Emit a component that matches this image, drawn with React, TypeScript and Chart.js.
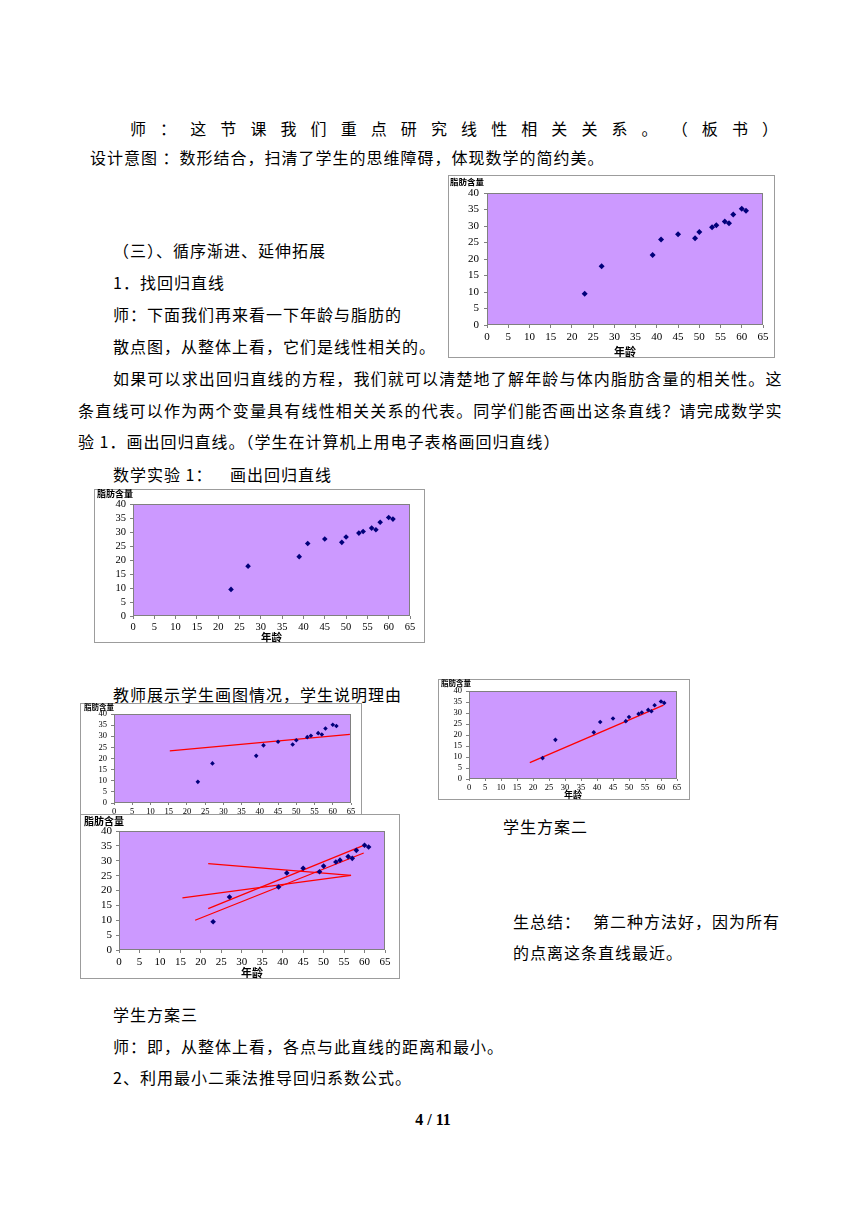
import React, { useEffect, useRef } from "react";
import { Chart, registerables } from "chart.js";

Chart.register(...registerables);

// ---- data (age vs body-fat) ----
const ages = [23, 27, 39, 41, 45, 49, 50, 53, 54, 56, 57, 58, 60, 61];
const fat = [9.5, 17.8, 21.2, 25.9, 27.5, 26.3, 28.2, 29.6, 30.2, 31.4, 30.8, 33.5, 35.2, 34.6];
const xTickLabels = [0, 5, 10, 15, 20, 25, 30, 35, 40, 45, 50, 55, 60, 65];
const yTickLabels = [0, 5, 10, 15, 20, 25, 30, 35, 40];
const xAxisTitle = "年龄";
const yAxisTitle = "脂肪含量";

// student-drawn lines (endpoints)
const planOneX = [15.3, 64.7];
const planOneY = [23.4, 30.8];
const planTwoX = [19.0, 60.8];
const planTwoY = [7.4, 33.6];
const planThreeAX = [21.8, 56.7];
const planThreeAY = [29.0, 25.1];
const planThreeBX = [15.5, 56.7];
const planThreeBY = [17.5, 25.1];
const planThreeCX = [21.8, 59.8];
const planThreeCY = [13.9, 35.2];
const planThreeDX = [18.6, 59.8];
const planThreeDY = [10.0, 32.6];

type Seg = { xs: number[]; ys: number[] };
type Spec = {
  box: { l: number; t: number; w: number; h: number };
  plot: { l: number; t: number; r: number; b: number };
  tick: number;
  labX: number;
  labY: number;
  labSize: number;
  titleSize: number;
  pointR: number;
  yTickLen: number;
  yPad: number;
  xTickLen: number;
  xPad: number;
  lines: Seg[];
  z: number;
};

const CJK = "'Noto Sans CJK SC', 'Noto Sans', sans-serif";
const NUM = "'Liberation Serif', 'DejaVu Serif', serif";

function ScatterBox({ spec }: { spec: Spec }) {
  const ref = useRef<HTMLCanvasElement | null>(null);
  useEffect(() => {
    const canvas = ref.current;
    if (!canvas) return;
    const { box, plot } = spec;
    const padTop = plot.t - box.t;
    const padRight = box.l + box.w - plot.r;
    const yW = plot.l - box.l;
    const xH = box.t + box.h - plot.b;

    const deco = {
      id: "deco",
      beforeDatasetsDraw(chart: any) {
        const { ctx, chartArea } = chart;
        ctx.save();
        ctx.fillStyle = "#CC99FF";
        ctx.fillRect(chartArea.left, chartArea.top, chartArea.width, chartArea.height);
        ctx.strokeStyle = "#808080";
        ctx.lineWidth = 1;
        ctx.strokeRect(chartArea.left + 0.5, chartArea.top + 0.5, chartArea.width - 1, chartArea.height - 1);
        ctx.restore();
      },
      afterDraw(chart: any) {
        const { ctx } = chart;
        ctx.save();
        ctx.fillStyle = "#000";
        ctx.font = `bold ${spec.labSize}px ${CJK}`;
        ctx.textBaseline = "middle";
        ctx.textAlign = "left";
        ctx.fillText(yAxisTitle, spec.labX - box.l, spec.labY - box.t);
        ctx.restore();
      },
    };

    const datasets: any[] = [
      {
        data: ages.map((a, i) => ({ x: a, y: fat[i] })),
        pointStyle: "rectRot",
        pointRadius: spec.pointR,
        pointHoverRadius: spec.pointR,
        pointBackgroundColor: "#00007A",
        pointBorderColor: "#00007A",
        pointBorderWidth: 0,
        showLine: false,
      },
      ...spec.lines.map((s) => ({
        data: s.xs.map((x, i) => ({ x, y: s.ys[i] })),
        showLine: true,
        borderColor: "#FF0000",
        borderWidth: 1.3,
        pointRadius: 0,
        pointHoverRadius: 0,
        fill: false,
      })),
    ];

    const chart = new Chart(canvas, {
      type: "scatter",
      data: { datasets },
      options: {
        responsive: false,
        animation: false,
        events: [],
        layout: { padding: { top: padTop, right: padRight, left: 0, bottom: 0 } },
        plugins: {
          legend: { display: false },
          tooltip: { enabled: false },
          title: { display: false },
        },
        scales: {
          x: {
            type: "linear",
            min: 0,
            max: 65,
            afterBuildTicks: (s: any) => {
              s.ticks = xTickLabels.map((v) => ({ value: v }));
            },
            afterFit: (s: any) => {
              s.height = xH;
            },
            ticks: {
              autoSkip: false,
              maxRotation: 0,
              color: "#000",
              padding: spec.xPad,
              font: { family: NUM, size: spec.tick },
            },
            grid: {
              drawOnChartArea: false,
              drawTicks: true,
              tickLength: spec.xTickLen,
              color: "#808080",
            },
            border: { display: false },
            title: {
              display: true,
              text: xAxisTitle,
              color: "#000",
              font: { family: CJK, size: spec.titleSize, weight: "bold" },
              padding: { top: 0, bottom: 0 },
            },
          },
          y: {
            type: "linear",
            min: 0,
            max: 40,
            afterBuildTicks: (s: any) => {
              s.ticks = yTickLabels.map((v) => ({ value: v }));
            },
            afterFit: (s: any) => {
              s.width = yW;
            },
            ticks: {
              autoSkip: false,
              color: "#000",
              padding: spec.yPad,
              font: { family: NUM, size: spec.tick },
            },
            grid: {
              drawOnChartArea: false,
              drawTicks: true,
              tickLength: spec.yTickLen,
              color: "#808080",
            },
            border: { display: false },
          },
        },
      } as any,
      plugins: [deco],
    });
    return () => chart.destroy();
  }, [spec]);

  const { box } = spec;
  return (
    <div
      style={{
        position: "absolute",
        left: box.l,
        top: box.t,
        width: box.w,
        height: box.h,
        boxSizing: "border-box",
        border: "1px solid #9c9c9c",
        background: "#fff",
        zIndex: spec.z,
      }}
    >
      <canvas
        ref={ref}
        width={box.w}
        height={box.h}
        style={{ position: "absolute", left: -1, top: -1, width: box.w, height: box.h }}
      />
    </div>
  );
}

const chartOne: Spec = {
  box: { l: 448, t: 175, w: 327, h: 183 },
  plot: { l: 487, t: 193, r: 763, b: 325 },
  tick: 11, labX: 450, labY: 182, labSize: 8.5, titleSize: 11, pointR: 3,
  yTickLen: 3, yPad: 5, xTickLen: 3, xPad: 3, lines: [], z: 1,
};
const chartTwo: Spec = {
  box: { l: 94, t: 489, w: 331, h: 154 },
  plot: { l: 133, t: 504, r: 410, b: 616 },
  tick: 10.5, labX: 97, labY: 494, labSize: 9, titleSize: 10.5, pointR: 2.8,
  yTickLen: 3, yPad: 4, xTickLen: 3, xPad: 2, lines: [], z: 1,
};
const chartThree: Spec = {
  box: { l: 80, t: 703, w: 282, h: 126 },
  plot: { l: 114, t: 714, r: 351, b: 803 },
  tick: 8.5, labX: 84, labY: 707, labSize: 7.5, titleSize: 9, pointR: 2.3,
  yTickLen: 3, yPad: 4, xTickLen: 2, xPad: 2,
  lines: [{ xs: planOneX, ys: planOneY }], z: 1,
};
const chartFour: Spec = {
  box: { l: 438, t: 679, w: 252, h: 121 },
  plot: { l: 469, t: 691, r: 677, b: 779 },
  tick: 8.5, labX: 441, labY: 683.5, labSize: 7.5, titleSize: 9, pointR: 2.3,
  yTickLen: 3, yPad: 4, xTickLen: 2, xPad: 2,
  lines: [{ xs: planTwoX, ys: planTwoY }], z: 1,
};
const chartFive: Spec = {
  box: { l: 80, t: 814, w: 320, h: 165 },
  plot: { l: 119, t: 831, r: 385, b: 950 },
  tick: 11, labX: 84, labY: 821, labSize: 10, titleSize: 11, pointR: 2.8,
  yTickLen: 3, yPad: 4, xTickLen: 3, xPad: 3,
  lines: [
    { xs: planThreeAX, ys: planThreeAY },
    { xs: planThreeBX, ys: planThreeBY },
    { xs: planThreeCX, ys: planThreeCY },
    { xs: planThreeDX, ys: planThreeDY },
  ],
  z: 2,
};

function T({ x, y, text, w, justify, bold, serif }: { x: number; y: number; text: string; w?: number; justify?: boolean; bold?: boolean; serif?: boolean }) {
  const base: React.CSSProperties = {
    position: "absolute",
    left: x,
    top: y - 11,
    height: 22,
    lineHeight: "22px",
    fontSize: 16,
    fontFamily: serif ? NUM : CJK,
    fontWeight: bold ? 700 : 400,
    color: "#000",
    whiteSpace: "pre",
  };
  if (justify && w) {
    return (
      <div style={{ ...base, width: w, display: "flex", justifyContent: "space-between" }}>
        {Array.from(text).map((c, i) => (
          <span key={i}>{c}</span>
        ))}
      </div>
    );
  }
  return <div style={{ ...base, letterSpacing: 1 }}>{text}</div>;
}

export default function App() {
  return (
    <div style={{ position: "absolute", left: 0, top: 0, width: 860, height: 1216, background: "#fff", overflow: "hidden" }}>
      <T x={130} y={128} w={648} justify text="师：这节课我们重点研究线性相关关系。（板书）" />
      <T x={90} y={157} text="设计意图 ：数形结合，扫清了学生的思维障碍，体现数学的简约美。" />
      <T x={113} y={250} text="（三）、循序渐进、延伸拓展" />
      <T x={113} y={282} text="1．找回归直线" />
      <T x={113} y={314} text="师：下面我们再来看一下年龄与脂肪的" />
      <T x={113} y={346} text="散点图，从整体上看，它们是线性相关的。" />
      <T x={113} y={378} w={669} justify text="如果可以求出回归直线的方程，我们就可以清楚地了解年龄与体内脂肪含量的相关性。这" />
      <T x={78} y={410} w={704} justify text="条直线可以作为两个变量具有线性相关关系的代表。同学们能否画出这条直线？请完成数学实" />
      <T x={78} y={441} text="验 1．画出回归直线。（学生在计算机上用电子表格画回归直线）" />
      <T x={113} y={474} text="数学实验 1：" />
      <T x={230} y={474} text="画出回归直线" />
      <T x={113} y={694} text="教师展示学生画图情况，学生说明理由" />
      <T x={503} y={826} text="学生方案二" />
      <T x={513} y={921} text="生总结：" />
      <T x={593} y={921} text="第二种方法好，因为所有" />
      <T x={513} y={952} text="的点离这条直线最近。" />
      <T x={113} y={1014} text="学生方案三" />
      <T x={113} y={1046} text="师：即，从整体上看，各点与此直线的距离和最小。" />
      <T x={113} y={1077} text="2、利用最小二乘法推导回归系数公式。" />
      <div
        style={{
          position: "absolute",
          left: 383,
          width: 100,
          top: 1109,
          height: 22,
          lineHeight: "22px",
          textAlign: "center",
          fontFamily: NUM,
          fontWeight: 700,
          fontSize: 16,
          color: "#000",
        }}
      >
        4 / 11
      </div>

      <ScatterBox spec={chartOne} />
      <ScatterBox spec={chartTwo} />
      <ScatterBox spec={chartThree} />
      <ScatterBox spec={chartFour} />
      <ScatterBox spec={chartFive} />
    </div>
  );
}
